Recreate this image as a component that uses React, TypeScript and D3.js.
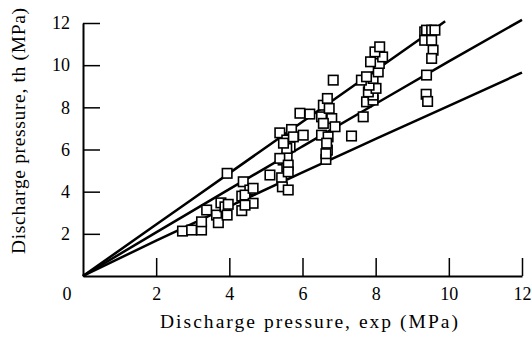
import React, { useRef, useEffect } from 'react';
import * as d3 from 'd3';

// measured points (exp MPa, th MPa)
const measured: [number, number][] = [
  [2.72, 2.13], [2.97, 2.18], [3.24, 2.18], [3.24, 2.57], [3.38, 3.13], [3.65, 2.89],
  [3.70, 2.53], [3.77, 3.47], [3.88, 3.28], [3.94, 2.89], [3.97, 3.40], [3.94, 4.87],
  [4.34, 3.79], [4.34, 3.10], [4.38, 4.47], [4.56, 4.08], [4.43, 3.84], [4.65, 4.16],
  [4.65, 3.45], [4.43, 3.36],
  [5.11, 4.79], [5.38, 6.79], [5.43, 4.66], [5.45, 4.23], [5.47, 5.50], [5.57, 5.18],
  [5.58, 5.65], [5.57, 6.45], [5.61, 4.08], [5.66, 6.13], [5.70, 6.95], [6.02, 6.68],
  [5.38, 5.58], [5.57, 6.05], [5.61, 5.26], [5.61, 4.94], [5.48, 6.30], [5.75, 6.60],
  [5.93, 7.72], [6.20, 7.68], [6.52, 7.55], [6.57, 8.10], [6.68, 8.42], [6.73, 7.95],
  [6.80, 7.47], [6.89, 7.08], [6.52, 6.68], [6.70, 6.60], [6.68, 5.97], [6.64, 5.53],
  [6.57, 7.24], [6.84, 9.29], [7.34, 6.64], [6.66, 6.30], [6.64, 5.80],
  [7.66, 7.55], [7.75, 8.26], [7.93, 8.34], [7.93, 8.58], [7.80, 8.73], [8.01, 8.90],
  [7.82, 9.05], [7.61, 9.29], [7.93, 9.37], [7.75, 9.45], [8.07, 9.68], [8.10, 10.08],
  [7.86, 10.16], [8.19, 10.39], [7.98, 10.63], [8.11, 10.87],
  [9.34, 11.58], [9.39, 11.66], [9.53, 11.66], [9.62, 11.66], [9.34, 11.18], [9.53, 11.18],
  [9.57, 10.71], [9.53, 10.32], [9.39, 9.53], [9.38, 8.62], [9.42, 8.28],
];

// model curves
const curveHigh: [number, number][] = [[0, 0], [2, 2.44], [4, 4.88], [6, 7.32], [8, 9.76], [9.9, 12.08]];
const curveMid: [number, number][] = [[0, 0], [2, 2.07], [4, 4.12], [6, 6.15], [8, 8.17], [10, 10.18], [12, 12.15]];
const curveLow: [number, number][] = [[0, 0], [2, 1.68], [4, 3.3], [6, 4.92], [8, 6.5], [10, 8.07], [12, 9.65]];

const xTicks = [2, 4, 6, 8, 10, 12];
const yTicks = [2, 4, 6, 8, 10, 12];

export default function App() {
  const ref = useRef<SVGSVGElement>(null);
  const width = 532;
  const height = 346;

  useEffect(() => {
    const svg = d3.select(ref.current);
    svg.selectAll('*').remove();

    const x = d3.scaleLinear().domain([0, 12]).range([83, 522]);
    const y = d3.scaleLinear().domain([0, 12]).range([276, 23]);
    const font = 'Liberation Serif, Times New Roman, Times, serif';

    // y axis, ticks pointing inward
    const gy = svg.append('g')
      .attr('transform', `translate(${x(0)},0)`)
      .call(d3.axisLeft(y).tickValues(yTicks).tickSizeInner(-17).tickSizeOuter(0).tickPadding(13).tickFormat(d3.format('d')));
    gy.select('.domain').attr('stroke-width', 2);
    gy.selectAll('.tick line').attr('stroke-width', 1.5);
    gy.selectAll('text').attr('font-family', font).attr('font-size', 18).attr('fill', '#000');

    // x axis
    const gx = svg.append('g')
      .attr('transform', `translate(0,${y(0)})`)
      .call(d3.axisBottom(x).tickValues(xTicks).tickSizeInner(-18).tickSizeOuter(0).tickPadding(11).tickFormat(d3.format('d')));
    gx.select('.domain').attr('stroke-width', 2);
    gx.selectAll('.tick line').attr('stroke-width', 1.5);
    gx.selectAll('text').attr('font-family', font).attr('font-size', 18).attr('fill', '#000');

    // shared zero at the corner
    svg.append('text')
      .attr('x', 67)
      .attr('y', 300)
      .attr('text-anchor', 'middle')
      .attr('font-family', font)
      .attr('font-size', 18)
      .text('0');

    // curves
    const line = d3.line<[number, number]>()
      .x(d => x(d[0]))
      .y(d => y(d[1]))
      .curve(d3.curveMonotoneX);

    svg.selectAll('.curve')
      .data([curveHigh, curveMid, curveLow])
      .enter()
      .append('path')
        .attr('class', 'curve')
        .attr('d', d => line(d))
        .attr('fill', 'none')
        .attr('stroke', '#000')
        .attr('stroke-width', 2.5);

    // squares
    const s = 9.5;
    svg.selectAll('.pt')
      .data(measured)
      .enter()
      .append('rect')
        .attr('class', 'pt')
        .attr('x', d => x(d[0]) - s / 2)
        .attr('y', d => y(d[1]) - s / 2)
        .attr('width', s)
        .attr('height', s)
        .attr('fill', '#fff')
        .attr('stroke', '#000')
        .attr('stroke-width', 1.6);

    // axis titles
    svg.append('text')
      .attr('x', 309)
      .attr('y', 328)
      .attr('text-anchor', 'middle')
      .attr('font-family', font)
      .attr('font-size', 19.5)
      .attr('textLength', 298)
      .attr('lengthAdjust', 'spacing')
      .text('Discharge pressure, exp (MPa)');

    svg.append('text')
      .attr('transform', `translate(25,131) rotate(-90)`)
      .attr('text-anchor', 'middle')
      .attr('font-family', font)
      .attr('font-size', 19.5)
      .attr('textLength', 246)
      .attr('lengthAdjust', 'spacing')
      .text('Discharge pressure, th (MPa)');
  }, []);

  return (
    <svg
      ref={ref}
      width={width}
      height={height}
      style={{ position: 'absolute', left: 0, top: 0, background: '#fff', display: 'block' }}
    />
  );
}
